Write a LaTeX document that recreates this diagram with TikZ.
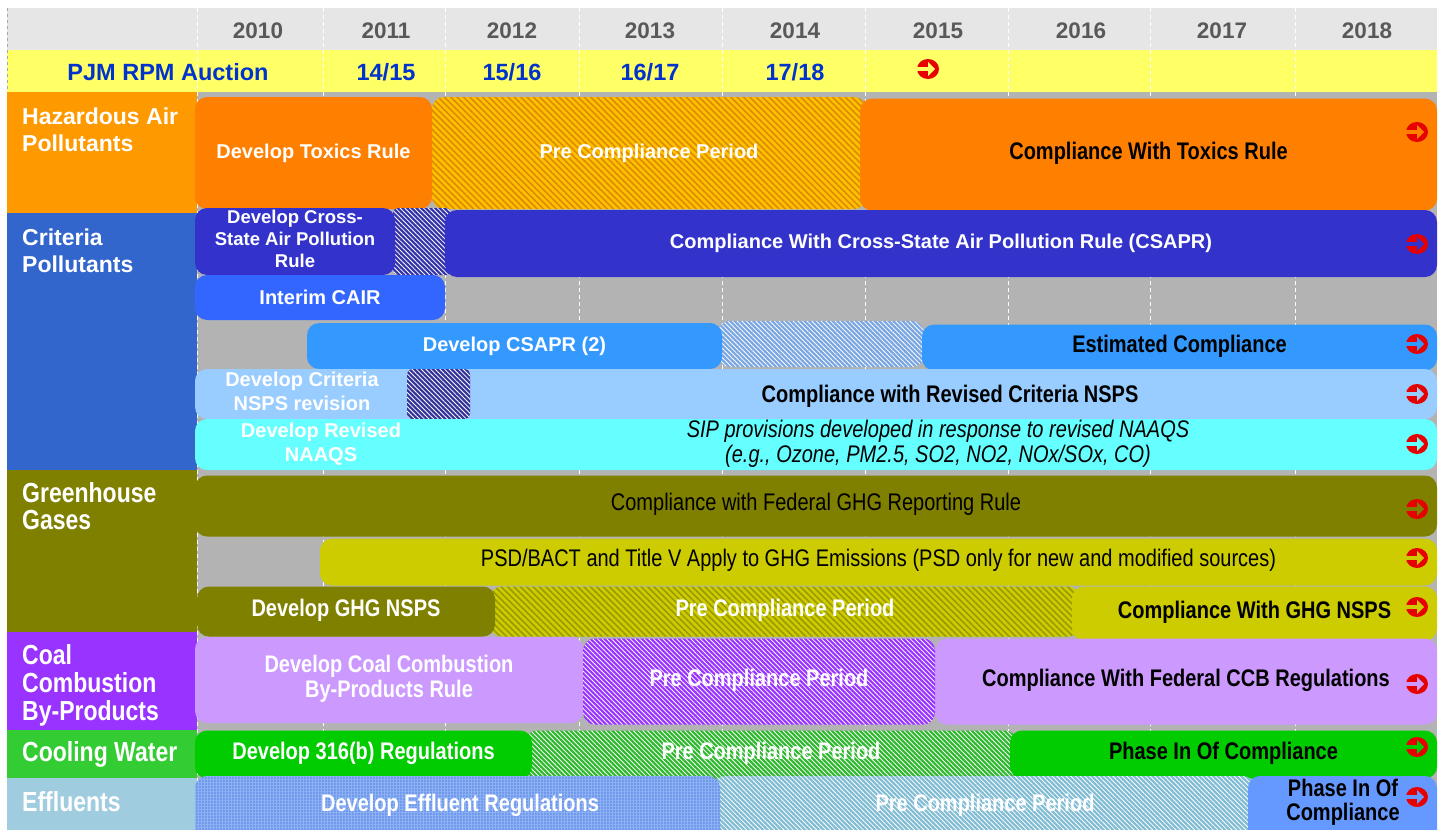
\documentclass[tikz,border=0pt]{standalone}
\usepackage{fontspec}
\setmainfont{Liberation Sans}
\usepackage{graphicx}
\usetikzlibrary{patterns.meta,shapes.geometric}

\definecolor{hdrgrey}{HTML}{E6E6E6}
\definecolor{yel}{HTML}{FFFF66}
\definecolor{yeartxt}{HTML}{595959}
\definecolor{pjmblue}{HTML}{0033CC}
\definecolor{bggrey}{HTML}{B3B3B3}
\definecolor{hapL}{HTML}{FF9900}
\definecolor{hapbar}{HTML}{FF8000}
\definecolor{hapHb}{HTML}{FFC000}
\definecolor{hapHl}{HTML}{DC8A00}
\definecolor{critL}{HTML}{3366CC}
\definecolor{csbar}{HTML}{3333CC}
\definecolor{csHb}{HTML}{3333AA}
\definecolor{cairc}{HTML}{3366FF}
\definecolor{cs2c}{HTML}{3399FF}
\definecolor{estHb}{HTML}{7AA6E2}
\definecolor{nspsc}{HTML}{99CCFF}
\definecolor{nspsHb}{HTML}{333399}
\definecolor{naaqsc}{HTML}{66FFFF}
\definecolor{ghgc}{HTML}{808000}
\definecolor{psdc}{HTML}{CCCC00}
\definecolor{ghgHl}{HTML}{9A9A00}
\definecolor{coalL}{HTML}{9933FF}
\definecolor{ccbc}{HTML}{CC99FF}
\definecolor{coolL}{HTML}{33CC33}
\definecolor{coolbar}{HTML}{00CC00}
\definecolor{coolHb}{HTML}{2DB82D}
\definecolor{effL}{HTML}{A0CCE0}
\definecolor{effdevc}{HTML}{7099EE}
\definecolor{effgrid}{HTML}{8FB2F2}
\definecolor{effHb}{HTML}{80BCD4}
\definecolor{effphc}{HTML}{6699FF}
\definecolor{iconred}{HTML}{E60000}

\newcommand\ctab[1]{\begin{tabular}{@{}c@{}}#1\end{tabular}}
\newcommand\nar[1]{\scalebox{1}[1.2]{\begin{tabular}{@{}c@{}}#1\end{tabular}}}
\newcommand\lftab[1]{\begin{tabular}{@{}l@{}}#1\end{tabular}}
\newcommand\nlftab[1]{\scalebox{1}[1.2]{\begin{tabular}{@{}l@{}}#1\end{tabular}}}
\newcommand\stopsign[4]{%
  \begin{scope}[shift={(#2,#3)}]
    \node[ellipse, fill=iconred, minimum width=22pt, minimum height=20pt, inner sep=0pt] (#1) at (0,0) {};
    \fill[#4] (-11.5,-2.4) rectangle (0.5,2.4);
    \fill[#4] (0,-7) -- (7,0) -- (0,7) -- cycle;
  \end{scope}}

\tikzset{
  bar/.style={rectangle, rounded corners=12pt, inner sep=0pt, text=white, font=\bfseries\fontsize{20}{24}\selectfont},
  bar1/.style={bar, yshift=-2pt},
  nbar/.style={bar, font=\bfseries\fontsize{20}{20.8}\selectfont},
  nbar1/.style={nbar, yshift=-3.5pt},
  nbarm1/.style={bar, yshift=-3.5pt, font=\fontsize{20}{20.8}\selectfont},
  hatched/.style 2 args={preaction={fill=#1}, pattern={Lines[angle=-45,distance=4.5pt,line width=1.6pt]}, pattern color=#2},
  finehatch/.style 2 args={preaction={fill=#1}, pattern={Lines[angle=-45,distance=3.3pt,line width=0.8pt]}, pattern color=#2},
  labbox/.style={rectangle, inner sep=0pt, outer sep=0pt, anchor=north west, minimum width=190pt},
  labtxt/.style={anchor=north west, inner sep=0pt, text=white, font=\bfseries\fontsize{23}{27}\selectfont},
  nlabtxt/.style={labtxt, font=\bfseries\fontsize{23}{22.5}\selectfont},
  yr/.style={text=yeartxt, font=\bfseries\fontsize{22.5}{24}\selectfont},
  auc/.style={text=pjmblue, font=\bfseries\fontsize{23.5}{24}\selectfont}
}

\begin{document}
\begin{tikzpicture}[x=1pt,y=-1pt]
\useasboundingbox (0,0) rectangle (1441,830);
\clip (0,0) rectangle (1441,830);
\fill[white] (0,0) rectangle (1441,830);

% header rows and background
\fill[hdrgrey] (7,8) rectangle (1437,50);
\fill[yel] (7,50) rectangle (1437,92);
\fill[bggrey] (197,92) rectangle (1437,830);
\draw[gray!70, dashed, line width=0.6pt] (7,8) -- (7,830);
\foreach \x in {197,323,445,579,722,865,1008,1150,1295}
  \draw[white, dash pattern=on 4pt off 3pt, line width=0.8pt] (\x,8) -- (\x,830);

% years
\foreach \yrv/\xc in {2010/258,2011/386,2012/512,2013/650,2014/795,2015/938,2016/1081,2017/1222,2018/1367}
  \node[yr] (y\yrv) at (\xc,31) {\yrv};

% auction row
\node[auc] (pjm) at (168,72) {PJM RPM Auction};
\node[auc] (a1415) at (386,72) {14/15};
\node[auc] (a1516) at (512,72) {15/16};
\node[auc] (a1617) at (650,72) {16/17};
\node[auc] (a1718) at (795,72) {17/18};
\stopsign{s0}{928}{69}{yel}

% category boxes
\node[labbox, fill=hapL, minimum height=121pt] (hapbox) at (7,92) {};
\node[labbox, fill=critL, minimum height=257pt] (critbox) at (7,213) {};
\node[labbox, fill=ghgc, minimum height=162pt] (ghgbox) at (7,470) {};
\node[labbox, fill=coalL, minimum height=98pt] (coalbox) at (7,632) {};
\node[labbox, fill=coolL, minimum height=48pt] (coolbox) at (7,730) {};
\node[labbox, fill=effL, minimum height=52pt] (effbox) at (7,778) {};
\node[labtxt] (haplab) at (22,105.5) {\lftab{Hazardous Air\\Pollutants}};
\node[labtxt] (critlab) at (22,226) {\lftab{Criteria\\Pollutants}};
\node[nlabtxt] (ghglab) at (22,482) {\nlftab{Greenhouse\\Gases}};
\node[nlabtxt] (coallab) at (22,644) {\nlftab{Coal\\Combustion\\By-Products}};
\node[nlabtxt] (coollab) at (22,741) {\nlftab{Cooling Water}};
\node[nlabtxt] (efflab) at (22,791) {\nlftab{Effluents}};

% Hazardous air pollutants
\node[bar1, hatched={hapHb}{hapHl}, minimum width=434pt, minimum height=112pt] (toxpre) at (649,151) {Pre Compliance Period};
\node[bar1, fill=hapbar, minimum width=237pt, minimum height=112pt] (toxdev) at (313.5,151) {Develop Toxics Rule};
\node[nbar1, fill=hapbar, text=black, minimum width=577pt, minimum height=112pt] (toxcomp) at (1148.5,151) {\nar{Compliance With Toxics Rule}};
\stopsign{s1}{1417}{132}{hapbar}

% Criteria pollutants
\node[bar, finehatch={csHb}{white}, rounded corners=5pt, minimum width=58pt, minimum height=67pt] (cshatch) at (422,241.5) {};
\node[bar, fill=csbar, minimum width=200pt, minimum height=67pt, font=\bfseries\fontsize{18.5}{22}\selectfont] (csdev) at (295,241.5) {\ctab{Develop Cross-\\State Air Pollution\\Rule}};
\node[bar1, fill=csbar, minimum width=992pt, minimum height=67pt] (cscomp) at (941,241.5) {Compliance With Cross-State Air Pollution Rule (CSAPR)};
\stopsign{s2}{1417}{244}{csbar}
\node[bar, fill=cairc, minimum width=250pt, minimum height=45pt] (cair) at (320,297.5) {Interim CAIR};

\node[bar, finehatch={estHb}{white}, minimum width=206pt, minimum height=46pt] (esthatch) at (821,344) {};
\node[bar1, fill=cs2c, minimum width=415pt, minimum height=46pt] (cs2dev) at (514.5,344) {Develop CSAPR (2)};
\node[nbar1, fill=cs2c, text=black, minimum width=515pt, minimum height=46pt] (estcomp) at (1179.5,344) {\nar{Estimated Compliance}};
\stopsign{s3}{1417}{344}{cs2c}

\node[bar, fill=nspsc, minimum width=1242pt, minimum height=50pt] (nspsrow) at (816,394) {};
\node[bar, finehatch={nspsHb}{white}, rounded corners=5pt, minimum width=63pt, minimum height=50pt] (nspshatch) at (438.5,394) {};
\node[bar] (nspsdev) at (302,394) {\ctab{Develop Criteria\\NSPS revision}};
\node[nbar1, text=black] (nspscomp) at (950,394) {\nar{Compliance with Revised Criteria NSPS}};
\stopsign{s4}{1417}{394}{nspsc}

\node[bar, fill=naaqsc, minimum width=1242pt, minimum height=51pt] (naaqsrow) at (816,444.5) {};
\node[bar] (naaqsdev) at (321,444.5) {\ctab{Develop Revised\\NAAQS}};
\node[bar, text=black, font=\itshape\fontsize{20}{20}\selectfont] (sip) at (938,445) {\nar{SIP provisions developed in response to revised NAAQS\\(e.g., Ozone, PM2.5, SO2, NO2, NOx/SOx, CO)}};
\stopsign{s5}{1417}{444}{naaqsc}

% Greenhouse gases
\node[nbarm1, fill=ghgc, text=black, minimum width=1242pt, minimum height=61pt] (ghgrep) at (816,502.5) {\nar{Compliance with Federal GHG Reporting Rule}};
\stopsign{s6}{1417}{509}{ghgc}
\node[nbarm1, fill=psdc, text=black, minimum width=1117pt, minimum height=47pt] (psd) at (878.5,558.5) {\nar{PSD/BACT and Title V Apply to GHG Emissions (PSD only for new and modified sources)}};
\stopsign{s7}{1417}{558}{psdc}
\node[nbar1, hatched={psdc}{ghgHl}, minimum width=590pt, minimum height=50pt] (ghghatch) at (785,608) {\nar{Pre Compliance Period}};
\node[nbar1, fill=ghgc, minimum width=298pt, minimum height=50pt] (ghgdev) at (346,608) {\nar{Develop GHG NSPS}};
\node[nbar1, fill=psdc, text=black, minimum width=365pt, minimum height=54pt] (ghgcomp) at (1254.5,610) {\nar{Compliance With GHG NSPS}};
\stopsign{s8}{1417}{607}{psdc}

% Coal combustion by-products
\node[nbar, fill=ccbc, minimum width=388pt, minimum height=86pt] (ccbdev) at (389,680) {\nar{Develop Coal Combustion\\By-Products Rule}};
\node[nbar1, fill=ccbc, text=black, minimum width=502pt, minimum height=86pt] (ccbcomp) at (1186,678) {\nar{Compliance With Federal CCB Regulations}};
\node[nbar1, finehatch={coalL}{white}, minimum width=352pt, minimum height=86pt] (ccbhatch) at (759,678) {\nar{Pre Compliance Period}};
\stopsign{s9}{1417}{684}{ccbc}

% Cooling water
\node[nbar1, finehatch={coolHb}{white}, minimum width=492pt, minimum height=48pt] (coolhatch) at (771,751) {\nar{Pre Compliance Period}};
\node[nbar1, fill=coolbar, minimum width=337pt, minimum height=48pt] (cooldev) at (363.5,751) {\nar{Develop 316(b) Regulations}};
\node[nbar1, fill=coolbar, text=black, minimum width=427pt, minimum height=48pt] (coolcomp) at (1223.5,751) {\nar{Phase In Of Compliance}};
\stopsign{s10}{1417}{747}{coolbar}

% Effluents
\node[bar, finehatch={effHb}{white}, minimum width=542pt, minimum height=69pt] (effhatch) at (984,810.5) {};
\node[bar, preaction={fill=effdevc}, pattern={Hatch[angle=0,distance=3pt,line width=0.4pt]}, pattern color=effgrid, minimum width=525pt, minimum height=69pt] (effdev) at (457.5,810.5) {};
\node[bar, fill=effphc, minimum width=189pt, minimum height=69pt] (effcomp) at (1342.5,810.5) {};
\node[nbar1] (effdevtx) at (460,803) {\nar{Develop Effluent Regulations}};
\node[nbar1] (effpretx) at (985,803) {\nar{Pre Compliance Period}};
\node[nbar, text=black] (effcomptx) at (1343,803.5) {\nar{Phase In Of\\Compliance}};
\stopsign{s11}{1417}{797}{effphc}
\end{tikzpicture}
\end{document}
